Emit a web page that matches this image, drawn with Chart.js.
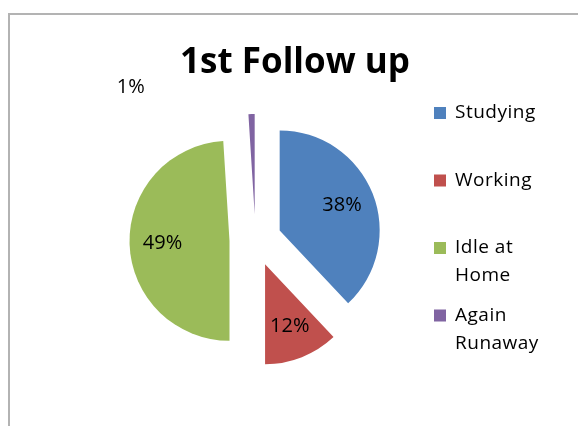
<!DOCTYPE html>
<html>
<head>
<meta charset="utf-8">
<script src="https://cdn.jsdelivr.net/npm/chart.js@4/dist/chart.umd.min.js"></script>
<style>
  html, body { margin: 0; padding: 0; background: #ffffff; }
  #wrap { position: relative; width: 578px; height: 426px; overflow: hidden; }
  #frame { position: absolute; left: 8px; top: 13px; right: -10px; bottom: -10px;
           border-top: 2px solid #b3b3b3; border-left: 2px solid #b3b3b3; }
  canvas { position: absolute; left: 0; top: 0; }
</style>
</head>
<body>
<div id="wrap">
  <div id="frame"></div>
  <canvas id="c" width="578" height="426"></canvas>
</div>
<script>
// ---- data ----
const chartTitle = '1st Follow up';
const categories = ['Studying', 'Working', 'Idle at Home', 'Again Runaway'];
const legendLines = [['Studying'], ['Working'], ['Idle at', 'Home'], ['Again', 'Runaway']];
const values = [38, 12, 49, 1];
const colors = ['#4F81BD', '#C0504D', '#9BBB59', '#8064A2'];

// ---- styling ----
const EXPLODE = 26;       // px each slice is pulled out
const LABEL_POS = 0.67;   // label distance from slice vertex, as fraction of radius
const FONT = '"Open Sans", "DejaVu Sans", sans-serif';

const explodePlugin = {
  id: 'explode',
  beforeDatasetsDraw(chart) {
    const meta = chart.getDatasetMeta(0);
    meta.data.forEach(arc => {
      const mid = (arc.startAngle + arc.endAngle) / 2;
      arc._ox = arc.x; arc._oy = arc.y;
      arc.x = arc.x + Math.cos(mid) * EXPLODE;
      arc.y = arc.y + Math.sin(mid) * EXPLODE;
    });
  },
  afterDatasetsDraw(chart) {
    const ctx = chart.ctx;
    const meta = chart.getDatasetMeta(0);
    ctx.save();
    ctx.fillStyle = '#000';
    ctx.font = '20px ' + FONT;
    ctx.textAlign = 'center';
    ctx.textBaseline = 'middle';
    meta.data.forEach((arc, i) => {
      const mid = (arc.startAngle + arc.endAngle) / 2;
      const r = arc.outerRadius;
      let lx = arc.x + Math.cos(mid) * r * LABEL_POS;
      let ly = arc.y + Math.sin(mid) * r * LABEL_POS;
      if (values[i] < 5) {
        // small slice: label moved out to upper left, like the original
        lx = arc.x - 124;
        ly = arc.y - 127;
      }
      ctx.fillText(values[i] + '%', lx, ly);
    });
    ctx.restore();
    meta.data.forEach(arc => { arc.x = arc._ox; arc.y = arc._oy; });
  },
  afterDraw(chart) {
    const ctx = chart.ctx;
    ctx.save();
    // title
    ctx.fillStyle = '#000';
    ctx.font = 'bold 35px ' + FONT;
    ctx.textAlign = 'center';
    ctx.textBaseline = 'alphabetic';
    ctx.fillText(chartTitle, 295, 73);
    // legend
    ctx.font = '19px ' + FONT;
    if ('letterSpacing' in ctx) ctx.letterSpacing = '0.5px';
    ctx.textAlign = 'left';
    ctx.textBaseline = 'middle';
    legendLines.forEach((lines, i) => {
      const y0 = 113 + i * 67.5;
      ctx.fillStyle = colors[i];
      ctx.fillRect(434, y0 - 6, 12, 12);
      ctx.fillStyle = '#000';
      lines.forEach((t, j) => ctx.fillText(t, 455, y0 + j * 28));
    });
    ctx.restore();
  }
};

new Chart(document.getElementById('c'), {
  type: 'pie',
  data: {
    labels: categories,
    datasets: [{
      data: values,
      backgroundColor: colors,
      borderWidth: 0
    }]
  },
  options: {
    responsive: false,
    animation: false,
    radius: 100,
    layout: { padding: { left: 0, right: 67, top: 54, bottom: 0 } },
    plugins: {
      legend: { display: false },
      title: { display: false },
      tooltip: { enabled: false }
    }
  },
  plugins: [explodePlugin]
});
</script>
</body>
</html>
